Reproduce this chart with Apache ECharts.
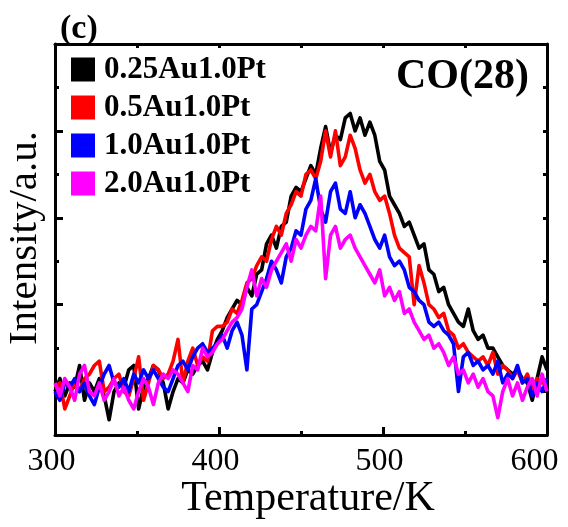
<!DOCTYPE html>
<html>
<head>
<meta charset="utf-8">
<script src="https://cdn.jsdelivr.net/npm/echarts@6/dist/echarts.min.js"></script>
<style>
html,body{margin:0;padding:0;background:#fff;}
#chart{width:568px;height:527px;}
</style>
</head>
<body>
<div id="chart"></div>
<script>
var temps = [300,303,306,309,312,315,318,321,324,327,
330,333,336,339,342,345,348,351,354,357,
360,363,366,369,372,375,378,381,384,387,
390,393,396,399,402,405,408,411,414,417,
420,423,426,429,432,435,438,441,444,447,
450,453,456,459,462,465,468,471,474,477,
480,483,486,489,492,495,498,501,504,507,
510,513,516,519,522,525,528,531,534,537,
540,543,546,549,552,555,558,561,564,567,
570,573,576,579,582,585,588,591,594,597,
600];

var seriesNames = ['0.25Au1.0Pt','0.5Au1.0Pt','1.0Au1.0Pt','2.0Au1.0Pt'];

var au025 = [1.0,1.3,0.9,1.2,1.1,1.6,0.8,1.2,1.0,1.3,
0.9,0.35,1.0,1.2,1.1,1.5,1.6,0.6,1.1,1.3,
1.6,1.5,1.2,0.6,1.0,1.3,1.2,1.5,1.4,1.6,
1.7,1.5,1.9,2.2,2.4,2.7,2.9,3.1,3.0,3.4,
3.2,3.7,3.8,4.4,4.6,4.3,4.8,4.9,5.5,5.7,
5.6,5.9,6.2,6.0,6.6,7.1,6.5,6.9,6.8,7.3,
7.4,7.0,7.3,6.9,7.2,6.9,6.3,6.1,5.5,5.3,
5.1,4.8,4.9,4.6,4.3,4.4,3.8,3.7,3.3,3.4,
3.0,2.8,2.6,2.5,2.9,2.4,2.2,2.3,2.0,2.0,
1.8,1.6,1.5,1.4,1.5,1.3,1.2,0.8,1.3,1.8,
1.5];

var au05 = [1.1,1.2,0.6,0.9,1.2,1.0,1.3,1.4,1.6,1.7,
1.0,1.1,1.3,1.4,1.0,0.9,1.3,1.8,0.8,1.2,
1.6,1.5,1.3,1.4,1.7,2.2,1.2,1.7,2.0,1.6,
1.8,1.7,2.4,2.5,2.5,2.6,2.9,2.8,3.1,3.5,
3.6,3.9,4.1,4.0,4.5,4.8,4.6,5.1,5.3,5.6,
5.5,6.0,6.1,5.9,6.3,7.0,6.4,7.0,6.2,6.4,
6.9,6.6,6.1,5.8,6.0,5.6,5.4,5.5,5.1,4.6,
4.3,4.2,4.1,3.0,3.9,3.5,3.0,2.9,2.7,2.8,
2.4,2.3,2.0,2.1,1.9,1.8,1.7,1.8,1.6,1.9,
1.4,1.6,1.5,1.3,1.5,1.2,1.4,1.1,1.3,1.2,
1.2];

var au10 = [1.0,0.8,1.2,1.1,1.3,1.0,1.2,0.9,0.7,1.1,
1.4,1.6,1.2,1.1,1.3,1.0,1.4,1.2,1.5,1.3,
1.5,1.3,1.1,1.0,1.3,1.6,1.7,1.5,1.8,2.0,
2.1,1.9,2.0,2.1,2.3,2.0,2.4,2.6,2.3,1.5,
2.9,3.0,3.3,3.6,4.0,3.8,3.5,4.1,4.3,4.7,
4.6,5.2,5.4,5.9,5.2,4.9,5.6,5.8,5.2,5.1,
5.6,5.0,5.3,5.1,4.8,4.5,4.3,4.6,4.1,3.9,
4.0,3.8,3.4,3.3,3.1,3.0,2.6,2.5,2.6,2.4,
2.3,2.1,1.0,1.8,1.9,1.6,1.7,1.5,1.6,1.4,
1.7,1.2,1.4,1.3,1.6,1.2,1.3,0.9,1.2,1.0,
1.3];

var au20 = [1.2,0.9,1.3,1.1,0.8,1.4,1.6,1.0,0.9,1.2,
0.8,1.0,1.3,0.9,1.1,0.8,0.6,1.0,1.3,1.1,
0.7,1.2,1.4,1.3,1.5,1.4,1.2,1.0,1.6,1.5,
2.0,1.8,1.9,2.1,2.2,2.4,2.6,2.7,2.9,3.4,
3.8,3.2,3.6,3.4,3.8,4.0,4.2,4.4,4.0,4.5,
4.3,4.6,4.8,4.7,5.5,3.6,4.6,4.8,4.3,4.5,
4.6,4.3,4.1,3.9,3.7,3.5,3.8,3.2,3.4,3.1,
3.3,2.8,2.9,2.6,2.4,2.2,2.3,2.0,2.1,1.9,
1.6,1.8,1.4,1.5,1.2,1.4,1.1,1.3,1.0,0.9,
0.4,1.0,1.3,0.9,1.2,0.8,1.1,1.3,0.9,1.4,
1.0];

var seriesValues = [au025, au05, au10, au20];
var seriesColors = ['#000000','#ff0000','#0000ff','#ff00ff'];

var xTicks = [300,400,500,600];

var FONT = '"Liberation Serif","Times New Roman",serif';
var chart = echarts.init(document.getElementById('chart'), null, {renderer:'canvas'});

function pairs(vals){ return temps.map(function(t,i){ return [t, vals[i]]; }); }

var series = seriesNames.map(function(n, i){
  return {
    name: n, type: 'line', xAxisIndex: 0, yAxisIndex: 0,
    data: pairs(seriesValues[i]),
    showSymbol: false, symbol: 'none',
    lineStyle: {color: seriesColors[i], width: 3.6, join: 'round'},
    itemStyle: {color: seriesColors[i]},
    z: 2 + i
  };
});

var option = {
  animation: false,
  backgroundColor: '#fff',
  grid: {left: 55, right: 21, top: 44, bottom: 92, containLabel: false},
  legend: {
    orient: 'vertical', left: 71, top: 54, padding: 0,
    itemWidth: 24, itemHeight: 24, itemGap: 7,
    icon: 'rect',
    data: seriesNames,
    textStyle: {fontFamily: FONT, fontWeight: 'bold', fontSize: 31, color: '#000', lineHeight: 24, padding: [0,0,0,4]}
  },
  xAxis: [
    {type: 'value', position: 'bottom', min: xTicks[0], max: xTicks[xTicks.length-1], interval: 100,
     axisLine: {show: true, onZero: false, lineStyle: {color:'#000', width:3}},
     axisTick: {show: true, inside: true, length: 8, lineStyle: {color:'#000', width:3}},
     minorTick: {show: true, splitNumber: 2, length: 4, lineStyle: {color:'#000', width:3}},
     splitLine: {show: false}, minorSplitLine: {show: false},
     axisLabel: {show: true, margin: 11, fontFamily: FONT, fontSize: 32, color: '#000',
       formatter: function(v){ return v === 600 ? '{e|' + v + '}' : '{n|' + v + '}'; },
       rich: {n: {fontFamily: FONT, fontSize: 32, color:'#000', padding:[0,7,0,0]},
              e: {fontFamily: FONT, fontSize: 32, color:'#000', padding:[0,25,0,0]}}}
    },
    {type: 'value', position: 'top', min: 300, max: 600, interval: 50,
     axisLine: {show: true, onZero: false, lineStyle: {color:'#000', width:3}},
     axisTick: {show: true, inside: true, length: 4, lineStyle: {color:'#000', width:3}},
     splitLine: {show: false}, axisLabel: {show: false}}
  ],
  yAxis: [
    {type: 'value', position: 'left', min: 0, max: 9, interval: 1,
     axisLine: {show: true, onZero: false, lineStyle: {color:'#000', width:3}},
     axisTick: {show: true, inside: true, length: 4, lineStyle: {color:'#000', width:3}},
     splitLine: {show: false}, axisLabel: {show: false}},
    {type: 'value', position: 'left', min: 0, max: 9, interval: 2, inverse: true,
     axisLine: {show: false},
     axisTick: {show: true, inside: true, length: 8, lineStyle: {color:'#000', width:3}},
     splitLine: {show: false}, axisLabel: {show: false}},
    {type: 'value', position: 'right', min: 0, max: 9, interval: 1,
     axisLine: {show: true, onZero: false, lineStyle: {color:'#000', width:3}},
     axisTick: {show: true, inside: true, length: 4, lineStyle: {color:'#000', width:3}},
     splitLine: {show: false}, axisLabel: {show: false}}
  ],
  graphic: [
    {type: 'text', left: 60, top: 12, style: {text: '(c)', font: 'bold 34px ' + FONT, fill: '#000'}},
    {type: 'text', right: 39, top: 56, style: {text: 'CO(28)', font: 'bold 42px ' + FONT, fill: '#000'}},
    {type: 'text', x: 25, y: 238, rotation: Math.PI/2,
     style: {text: 'Intensity/a.u.', font: '41px ' + FONT, fill: '#000', textAlign: 'center', textVerticalAlign: 'middle'}},
    {type: 'text', x: 308, y: 499,
     style: {text: 'Temperature/K', font: '42px ' + FONT, fill: '#000', textAlign: 'center', textVerticalAlign: 'middle'}}
  ],
  series: series
};
chart.setOption(option);
</script>
</body>
</html>
